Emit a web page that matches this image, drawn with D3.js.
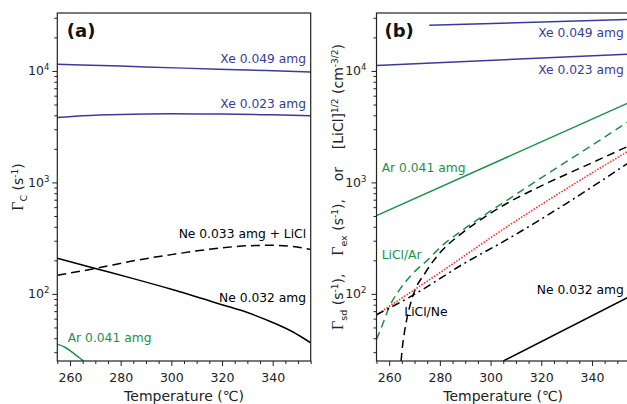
<!DOCTYPE html>
<html>
<head>
<meta charset="utf-8">
<script src="https://d3js.org/d3.v7.min.js"></script>
<style>
body { margin: 0; background: #fff; }
text { font-family: "DejaVu Sans", Verdana, sans-serif; }
</style>
</head>
<body>
<script>
// ---- data: [temperature (C), rate] ----
// panel (a)  Gamma_C
var xe049A = [[255, 11500], [280, 11050], [305, 10600], [330, 10200], [355, 9800]];
var xe023A = [[255, 3820], [265, 3960], [280, 4070], [300, 4120], [320, 4110], [340, 4040], [355, 3960]];
var ne032A = [[255, 209], [270, 169], [285, 137], [300, 110], [320, 80], [330, 68], [340, 55.4], [348, 45.5], [355, 36.4]];
var neLiClA = [[255, 147], [270, 169], [285, 198], [300, 225], [320, 259], [330, 270], [340, 273], [348, 266], [355, 250]];
var ar041A = [[255, 35.4], [258, 33.2], [260.7, 30.2], [263, 27.5], [265.3, 25], [267, 23]];

// panel (b)  Gamma_sd, Gamma_ex, [LiCl]^1/2
var xe049B = [[275.8, 25700], [355, 29000]];
var xe023B = [[255, 11200], [355, 14150]];
var ar041B = [[255, 504], [355, 5250]];
var liclArB = [[255, 39], [257.5, 54], [260, 76], [264, 108], [269, 150], [275, 200], [281, 272], [288, 360],
               [295, 465], [306, 680], [320, 1100], [340, 2150], [355, 3600]];
var liclNeB = [[264.7, 25], [265.2, 33], [266, 45], [267, 60], [269.3, 95], [274.5, 158], [281, 247], [288, 340],
               [294, 430], [306, 640], [320, 930], [340, 1500], [355, 2150]];
var exB = [[255, 65], [280, 155], [305, 380], [330, 880], [355, 1950]];
var sdB = [[255, 65], [268.6, 95], [290, 190], [306, 303], [330, 650], [355, 1530]];
var ne032B = [[305, 25], [355, 95]];

var xTicks = [260, 280, 300, 320, 340];
var yMajor = [100, 1000, 10000];

// ---- layout ----
const W = 627, H = 404;
const yTop = 13, yBot = 361;
const blue = "#3a3b98", green = "#1d9048", red = "#ff2a2a";

const svg = d3.select("body").append("svg")
  .attr("width", W)
  .attr("height", H);

var panels = {
  a: {left: 57.3, right: 310.7, yLab: 23, tickGap: 8},
  b: {left: 376.5, right: 630, yLab: 343, tickGap: 10}
};

var series = [
  {p: "a", data: xe049A, color: blue},
  {p: "a", data: xe023A, color: blue},
  {p: "a", data: ne032A, color: "#000"},
  {p: "a", data: neLiClA, color: "#000", dash: "9,5"},
  {p: "a", data: ar041A, color: green},
  {p: "b", data: xe049B, color: blue},
  {p: "b", data: xe023B, color: blue},
  {p: "b", data: ar041B, color: green},
  {p: "b", data: liclArB, color: green, dash: "8,5"},
  {p: "b", data: liclNeB, color: "#000", dash: "8,5"},
  {p: "b", data: exB, color: red, dash: "1.5,1.5"},
  {p: "b", data: sdB, color: "#000", dash: "8,4,2,4"},
  {p: "b", data: ne032B, color: "#000"}
];

// labels placed in data coordinates
var labels = [
  {p: "a", text: "Xe 0.049 amg", T: 353.2, v: 11840, color: blue, anchor: "end"},
  {p: "a", text: "Xe 0.023 amg", T: 353.2, v: 4677, color: blue, anchor: "end"},
  {p: "a", text: "Ne 0.033 amg + LiCl", T: 353.2, v: 319, color: "#000", anchor: "end"},
  {p: "a", text: "Ne 0.032 amg", T: 353.2, v: 85.1, color: "#000", anchor: "end"},
  {p: "a", text: "Ar 0.041 amg", T: 259.1, v: 36.9, color: green, anchor: "start"},
  {p: "b", text: "Xe 0.049 amg", T: 352.6, v: 20050, color: blue, anchor: "end"},
  {p: "b", text: "Xe 0.023 amg", T: 352.6, v: 9440, color: blue, anchor: "end"},
  {p: "b", text: "Ar 0.041 amg", T: 257.05, v: 1248, color: green, anchor: "start"},
  {p: "b", text: "LiCl/Ar", T: 257.05, v: 207, color: green, anchor: "start"},
  {p: "b", text: "LiCl/Ne", T: 265.97, v: 63.1, color: "#000", anchor: "start"},
  {p: "b", text: "Ne 0.032 amg", T: 352.6, v: 100.5, color: "#000", anchor: "end"}
];

var y = d3.scaleLog().domain([25, 33100]).range([yBot, yTop]);
var yMinor = [];
[10, 100, 1000, 10000].forEach(function(d) {
  for (var k = 2; k <= 9; k++) {
    var v = d * k;
    if (v >= 25 && v <= 33100) yMinor.push(v);
  }
});
var xMinor = d3.range(255, 356, 5).filter(function(t) { return xTicks.indexOf(t) < 0; });

Object.keys(panels).forEach(function(key) {
  var p = panels[key];
  var x = d3.scaleLinear().domain([255, 355]).range([p.left, p.right]);
  p.x = x;
  var g = svg.append("g");

  svg.append("clipPath").attr("id", "clip" + key)
    .append("rect")
    .attr("x", p.left).attr("y", yTop)
    .attr("width", p.right - p.left).attr("height", yBot - yTop);

  // curves
  var line = d3.line()
    .x(function(d) { return x(d[0]); })
    .y(function(d) { return y(d[1]); })
    .curve(d3.curveMonotoneX);
  series.filter(function(s) { return s.p == key; }).forEach(function(s) {
    g.append("path")
      .attr("clip-path", "url(#clip" + key + ")")
      .attr("d", line(s.data))
      .attr("fill", "none")
      .attr("stroke", s.color)
      .attr("stroke-width", s.color == red ? 1.6 : 1.5)
      .attr("stroke-dasharray", s.dash || null);
  });

  // x axis
  var xa = g.append("g").attr("transform", "translate(0," + yBot + ")")
    .call(d3.axisBottom(x).tickValues(xTicks).tickSize(5).tickPadding(7).tickFormat(d3.format("d")));
  xa.append("g").call(d3.axisBottom(x).tickValues(xMinor).tickSize(3).tickFormat(""));
  xa.selectAll(".domain").remove();
  xa.selectAll("line").attr("stroke", "#222");
  xa.selectAll("text").attr("font-size", 12.5).attr("fill", "#222")
    .attr("font-family", "DejaVu Sans, Verdana, sans-serif");

  // y axis
  var ya = g.append("g").attr("transform", "translate(" + p.left + ",0)")
    .call(d3.axisLeft(y).tickValues(yMajor).tickSize(5).tickFormat(""));
  ya.append("g").call(d3.axisLeft(y).tickValues(yMinor).tickSize(3).tickFormat(""));
  ya.selectAll(".domain").remove();
  ya.selectAll("line").attr("stroke", "#222");

  yMajor.forEach(function(v) {
    var t = g.append("text")
      .attr("x", p.left - p.tickGap)
      .attr("y", y(v) + 4.5)
      .attr("text-anchor", "end")
      .attr("font-size", 12.5)
      .attr("fill", "#222");
    t.append("tspan").text("10");
    t.append("tspan").attr("dy", -5).attr("font-size", 8.5).text(Math.round(Math.log10(v)));
  });

  // frame
  g.append("rect")
    .attr("x", p.left).attr("y", yTop)
    .attr("width", p.right - p.left).attr("height", yBot - yTop)
    .attr("fill", "none").attr("stroke", "#222").attr("stroke-width", 1.2);

  // x title
  g.append("text")
    .attr("x", (panels.a.right - panels.a.left) / 2 + p.left)
    .attr("y", 401)
    .attr("text-anchor", "middle")
    .attr("font-size", 14)
    .attr("fill", "#222")
    .text("Temperature (\u2103)");

  // panel letter
  g.append("text")
    .attr("x", p.left + (key == "a" ? 9.5 : 8))
    .attr("y", 37)
    .attr("font-size", 18)
    .attr("font-weight", "bold")
    .attr("fill", "#111")
    .text("(" + key + ")");

  // series labels
  labels.filter(function(l) { return l.p == key; }).forEach(function(l) {
    g.append("text")
      .attr("x", x(l.T))
      .attr("y", y(l.v))
      .attr("text-anchor", l.anchor)
      .attr("font-size", 12.3)
      .attr("fill", l.color)
      .text(l.text);
  });
});

// y titles
function addPart(t, str, opt) {
  var s = t.append("tspan").text(str);
  if (opt && opt.serif) s.attr("font-family", "Liberation Serif, Times New Roman, serif").attr("font-size", 16);
  if (opt && opt.dy) s.attr("dy", opt.dy);
  if (opt && opt.size) s.attr("font-size", opt.size);
  return s;
}

var ta = svg.append("text")
  .attr("transform", "translate(" + panels.a.yLab + "," + (yTop + yBot) / 2 + ") rotate(-90)")
  .attr("text-anchor", "middle")
  .attr("font-size", 14)
  .attr("fill", "#222")
  .style("white-space", "pre");
addPart(ta, "\u0393", {serif: true});
addPart(ta, "C", {dy: 3.5, size: 9.5});
addPart(ta, " (s", {dy: -3.5});
addPart(ta, "-1", {dy: -5, size: 9});
addPart(ta, ")", {dy: 5});

var tb = svg.append("text")
  .attr("transform", "translate(" + panels.b.yLab + "," + (yTop + yBot) / 2 + ") rotate(-90)")
  .attr("text-anchor", "middle")
  .attr("font-size", 14)
  .attr("fill", "#222")
  .style("white-space", "pre");
addPart(tb, "\u0393", {serif: true});
addPart(tb, "sd", {dy: 3.5, size: 9.5});
addPart(tb, " (s", {dy: -3.5});
addPart(tb, "-1", {dy: -5, size: 9});
addPart(tb, "),    ", {dy: 5});
addPart(tb, "\u0393", {serif: true});
addPart(tb, "ex", {dy: 3.5, size: 9.5});
addPart(tb, " (s", {dy: -3.5});
addPart(tb, "-1", {dy: -5, size: 9});
addPart(tb, "),    or    [LiCl]", {dy: 5});
addPart(tb, "1/2", {dy: -5, size: 9});
addPart(tb, " (cm", {dy: 5});
addPart(tb, "-3/2", {dy: -5, size: 9});
addPart(tb, ")", {dy: 5});
</script>
</body>
</html>
